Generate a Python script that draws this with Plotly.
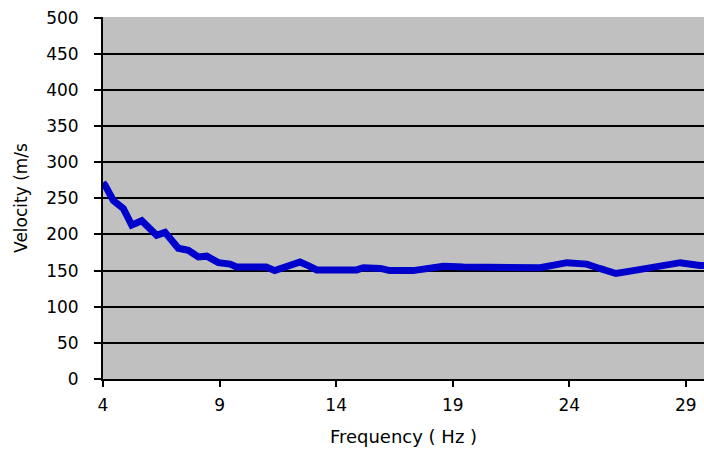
import plotly.graph_objects as go

frequency = [4.0, 4.09, 4.44, 4.87, 5.23, 5.66, 6.3, 6.66, 7.23, 7.66, 8.09, 8.45, 8.95, 9.45, 9.73,
             11.0, 11.37, 11.87, 12.45, 12.8, 13.17, 14.88, 15.17, 15.9, 16.3, 17.3, 18.6, 19.46,
             20.7, 22.75, 23.9, 24.75, 25.3, 26.0, 26.75, 27.9, 28.76, 29.6, 29.8]
velocity = [272, 268, 247, 236, 213, 219, 199, 203, 181, 178, 169, 170, 161, 159, 155,
            155, 150, 156, 162, 157, 151, 151, 154, 153, 150, 150, 156, 155,
            154, 154, 161, 159, 153, 146, 150, 157, 161, 157, 157]

y_ticks = [0, 50, 100, 150, 200, 250, 300, 350, 400, 450, 500]
x_ticks = [4, 9, 14, 19, 24, 29]

fig = go.Figure()
fig.add_trace(go.Scatter(x=frequency, y=velocity, mode="lines",
                         line=dict(color="#0000CC", width=7), showlegend=False))

font = dict(family="DejaVu Sans, Arial, sans-serif", size=17, color="#000000")
fig.update_layout(
    width=704, height=450,
    margin=dict(l=103, r=0, t=17, b=71, autoexpand=False),
    paper_bgcolor="white", plot_bgcolor="#C0C0C0",
    font=font,
    xaxis=dict(range=[4, 29.78], tickvals=x_ticks, ticktext=[str(v) for v in x_ticks],
               showgrid=False, zeroline=False, showline=True, linecolor="black", linewidth=2,
               ticks="outside", ticklen=6, tickcolor="black", tickwidth=2,
               ticklabelstandoff=4, automargin=False,
               title=dict(text="Frequency ( Hz )", font=dict(size=18), standoff=16)),
    yaxis=dict(range=[0, 501], tickvals=y_ticks, ticktext=[str(v) for v in y_ticks],
               showgrid=True, gridcolor="black", gridwidth=2, zeroline=False,
               showline=True, linecolor="black", linewidth=2,
               ticks="outside", ticklen=7, tickcolor="black", tickwidth=2,
               ticklabelstandoff=12, ticklabeloverflow="allow", automargin=False,
               title=dict(text="Velocity (m/s", font=dict(size=17), standoff=14)),
)
fig.write_html(
    "out.html",
    config={"displayModeBar": False},
    post_script="document.body.style.margin='0px';document.body.style.overflow='hidden';",
)
